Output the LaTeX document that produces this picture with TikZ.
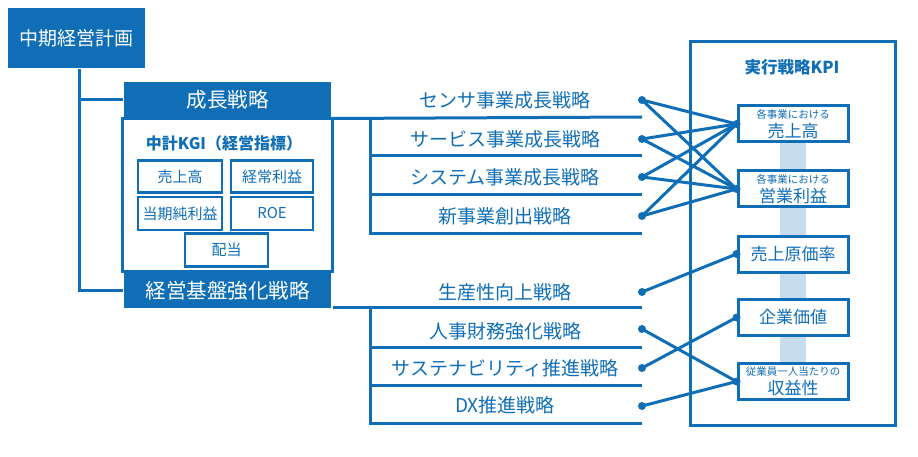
\documentclass[tikz,border=0pt]{standalone}
\usepackage{fontspec}
\setmainfont{Noto Sans CJK JP}
\usepackage{tikz}

\definecolor{kblue}{RGB}{16,110,183}
\definecolor{kband}{RGB}{198,221,240}

\begin{document}
\begin{tikzpicture}[x=1pt,y=-1pt,kblue,line width=3pt,
  bar/.style={fill=kblue,text=white,inner sep=0pt,minimum width=207pt,minimum height=35pt,font=\fontsize{20.5}{24}\selectfont},
  kgibox/.style={draw,line width=2.5pt,inner sep=0pt,minimum width=84pt,minimum height=32pt,font=\fontsize{15}{17}\selectfont},
  strat/.style={inner sep=0pt,font=\fontsize{19}{22}\selectfont},
  dot/.style={circle,fill=kblue,inner sep=0pt,minimum size=8pt},
  kpibox/.style={draw,fill=white,inner sep=0pt,minimum width=110pt,minimum height=36pt,align=center,font=\fontsize{17}{17}\selectfont}]
\useasboundingbox (0,0) rectangle (918,457);

\node [bar,minimum width=137pt,minimum height=60pt,font=\fontsize{19}{22}\selectfont] (plan) at (76.5,38) {中期経営計画};
\node [bar] (grow) at (227.5,99.5) {成長戦略};
\node [bar] (base) at (227.5,290.5) {経営基盤強化戦略};
\draw (grow.south west) rectangle (base.north east);

\draw ([xshift=2.5pt]plan.south) |- (grow.west);
\draw ([xshift=2.5pt]plan.south) |- (base.west);

\node [inner sep=0pt,font=\bfseries\fontsize{16}{18}\selectfont] (kgi) at (224,143) {中計KGI（経営指標）};
\node [kgibox] (sales) at (180,176.5) {売上高};
\node [kgibox,minimum width=82pt] (ordinary) at (272,176.5) {経常利益};
\node [kgibox,minimum height=33pt] (net) at (180,213.5) {当期純利益};
\node [kgibox,minimum width=82pt,minimum height=33pt] (roe) at (272,213.5) {ROE};
\node [kgibox,minimum width=83pt,minimum height=33pt] (div) at (226.5,250) {配当};

\coordinate (g0) at (642,117);
\coordinate (gv) at (370,117);
\coordinate (g1) at (642,156);
\coordinate (g2) at (642,195);
\coordinate (g3) at (642,233);
\draw (grow.south east) -- (g0);
\draw (gv) |- (g3);
\draw (gv |- g1) -- (g1);
\draw (gv |- g2) -- (g2);

\coordinate (b0) at (642,307);
\coordinate (bv) at (370,307);
\coordinate (b1) at (642,347);
\coordinate (b2) at (642,385);
\coordinate (b3) at (642,423);
\draw (base.east |- b0) -- (b0);
\draw (bv) |- (b3);
\draw (bv |- b1) -- (b1);
\draw (bv |- b2) -- (b2);

\node [strat] (sensor) at (505,100) {センサ事業成長戦略};
\node [strat] (service) at (505,139) {サービス事業成長戦略};
\node [strat] (system) at (505,177) {システム事業成長戦略};
\node [strat] (newbiz) at (505,216) {新事業創出戦略};
\node [strat] (product) at (505,292) {生産性向上戦略};
\node [strat] (hr) at (505,331) {人事財務強化戦略};
\node [strat] (sustain) at (505,368) {サステナビリティ推進戦略};
\node [strat] (dx) at (505,405) {DX推進戦略};

\node [dot] (d1) at (642,100) {};
\node [dot] (d2) at (642,139) {};
\node [dot] (d3) at (642,177) {};
\node [dot] (d4) at (642,216) {};
\node [dot] (d5) at (642,292) {};
\node [dot] (d6) at (642,329) {};
\node [dot] (d7) at (642,368) {};
\node [dot] (d8) at (642,406) {};

\node [draw,minimum width=205pt,minimum height=383pt] (kpiframe) at (792.5,233.5) {};
\node [inner sep=0pt,font=\bfseries\fontsize{16.5}{18}\selectfont] (kpititle) at (792,67) {実行戦略KPI};

\fill [kband] (780,142) rectangle (806,363);
\node [kpibox] (k1) at (793,124) {{\fontsize{10.5}{11}\selectfont 各事業における}\\[2pt]売上高};
\node [kpibox] (k2) at (793,189) {{\fontsize{10.5}{11}\selectfont 各事業における}\\[2pt]営業利益};
\node [kpibox] (k3) at (793,254) {売上原価率};
\node [kpibox] (k4) at (793,317.5) {企業価値};
\node [kpibox] (k5) at (793,381.5) {{\fontsize{10.5}{11}\selectfont 従業員一人当たりの}\\[2pt]収益性};

\draw (d1.center) -- (k1.west);
\draw (d1.center) -- (k2.west);
\draw (d2.center) -- (k1.west);
\draw (d2.center) -- (k2.west);
\draw (d3.center) -- (k1.west);
\draw (d3.center) -- (k2.west);
\draw (d4.center) -- (k1.west);
\draw (d4.center) -- (k2.west);
\draw (d5.center) -- (k3.west);
\draw (d6.center) -- (k5.west);
\draw (d7.center) -- (k4.west);
\draw (d8.center) -- (k5.west);

\node [dot] at (k1.west) {};
\node [dot] at (k2.west) {};
\node [dot] at (k3.west) {};
\node [dot] at (k4.west) {};
\node [dot] at (k5.west) {};

\end{tikzpicture}
\end{document}
